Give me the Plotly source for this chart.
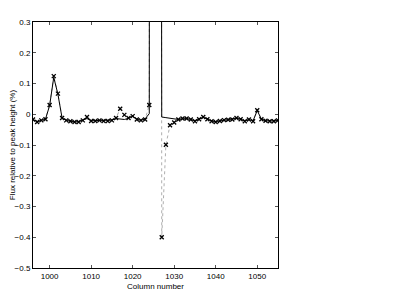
import plotly.graph_objects as go

columns = list(range(996, 1056))

measured = [
    -0.017, -0.025, -0.020, -0.016, 0.030, 0.124, 0.067, -0.012, -0.020, -0.023,
    -0.025, -0.025, -0.020, -0.009, -0.022, -0.022, -0.020, -0.022, -0.022, -0.020,
    -0.012, 0.018, -0.002, -0.012, -0.006, -0.017, -0.020, -0.017, 0.030, 20.0,
    20.0, -0.400, -0.099, -0.036, -0.027, -0.017, -0.014, -0.014, -0.017, -0.023,
    -0.016, -0.009, -0.016, -0.023, -0.025, -0.022, -0.019, -0.018, -0.017, -0.012,
    -0.016, -0.023, -0.017, -0.023, 0.013, -0.016, -0.021, -0.023, -0.023, -0.020,
]

model = [
    -0.017, -0.024, -0.020, -0.016, 0.028, 0.120, 0.065, -0.012, -0.020, -0.023,
    -0.025, -0.024, -0.020, -0.014, -0.021, -0.021, -0.020, -0.021, -0.021, -0.019,
    -0.014, -0.016, -0.017, -0.013, -0.006, -0.016, -0.020, -0.015, 0.002, 20.0,
    20.0, -0.009, -0.011, -0.013, -0.015, -0.017, -0.015, -0.014, -0.017, -0.021,
    -0.016, -0.010, -0.016, -0.022, -0.024, -0.022, -0.019, -0.018, -0.017, -0.013,
    -0.016, -0.022, -0.017, -0.021, 0.012, -0.016, -0.021, -0.022, -0.022, -0.020,
]

x_ticks = [1000, 1010, 1020, 1030, 1040, 1050]
y_ticks = [-0.5, -0.4, -0.3, -0.2, -0.1, 0, 0.1, 0.2, 0.3]
y_tick_labels = ["\u22120.5", "\u22120.4", "\u22120.3", "\u22120.2", "\u22120.1", "0", "0.1", "0.2", "0.3"]

fig = go.Figure()
fig.add_trace(go.Scatter(
    x=columns, y=measured, mode="lines+markers",
    line=dict(color="#999999", width=0.8, dash="dot"),
    marker=dict(symbol="x-thin", size=4, color="black", line=dict(width=1.3, color="black")),
    showlegend=False,
))
fig.add_trace(go.Scatter(
    x=columns, y=model, mode="lines",
    line=dict(color="black", width=1),
    showlegend=False,
))

axis_common = dict(
    showline=True, linecolor="black", linewidth=1, mirror="ticks",
    ticks="inside", ticklen=3, tickcolor="#555555", showgrid=False, zeroline=False,
    automargin=False,
    tickfont=dict(family="Liberation Sans, Arial, sans-serif", size=8, color="black"),
)

# page body has an 8px default margin, so the figure is offset by 8px
fig.update_layout(
    width=392, height=293,
    margin=dict(l=25, r=122, t=14, b=33),
    paper_bgcolor="white", plot_bgcolor="white",
    font=dict(family="Liberation Sans, Arial, sans-serif", size=8, color="black"),
    xaxis=dict(range=[996, 1055], tickvals=x_ticks,
               title=dict(text="Column number", standoff=3, font=dict(size=8)),
               **axis_common),
    yaxis=dict(range=[-0.5, 0.3], tickvals=y_ticks, ticktext=y_tick_labels,
               title=dict(text="Flux relative to peak height (%)", standoff=2, font=dict(size=8)),
               **axis_common),
)

fig.write_html("out.html")
